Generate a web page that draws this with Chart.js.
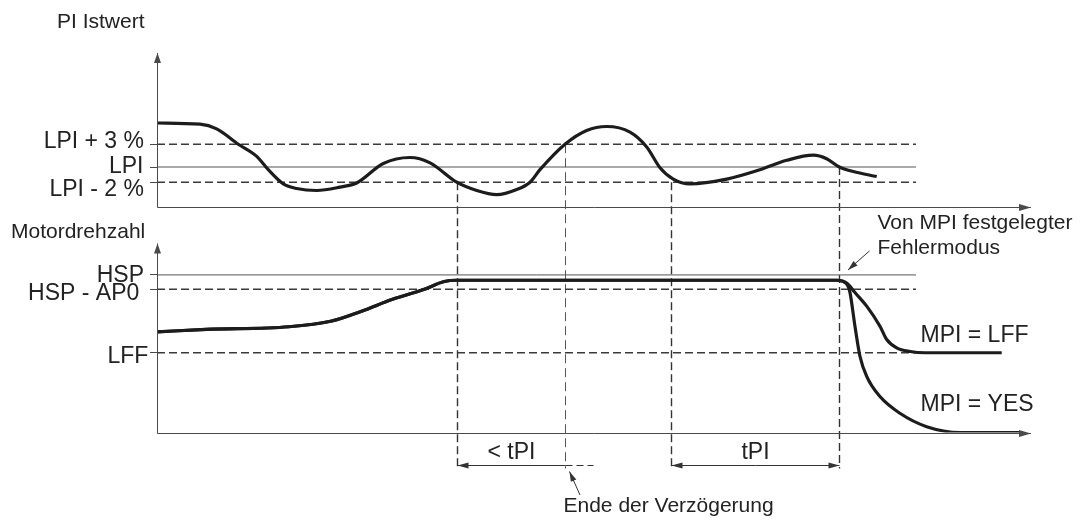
<!DOCTYPE html>
<html>
<head>
<meta charset="utf-8">
<script src="https://cdn.jsdelivr.net/npm/chart.js@4/dist/chart.umd.min.js"></script>
<style>
  html, body { margin: 0; padding: 0; background: #ffffff; }
  #wrap { width: 1080px; height: 525px; position: relative; }
</style>
</head>
<body>
<div id="wrap"><canvas id="timingChart"></canvas></div>
<script>
// --- Data (time in % of the shown span) ---

// PI feedback, deviation from LPI in %
const piTime  = [0, 4.92, 6.83, 9.3, 11.41, 12.73, 14.45, 15.98, 18.27, 20.94, 22.85, 25.89, 28.95, 31.24, 34.29, 36.58, 38.87, 41.16, 42.68, 43.82, 46.68, 49.16, 51.45, 54.12, 56.03, 57.55, 59.07, 60.98, 65.18, 68.99, 72.05, 75.09, 76.62, 78.07, 79.67, 82.35];
const piValue = [5.79, 5.64, 5.02, 3, 1.4, -0.35, -2.22, -2.83, -3.09, -2.65, -2.1, 0.46, 1.25, 0.55, -2, -3.09, -3.63, -2.96, -2, -0.35, 3, 4.81, 5.33, 4.58, 2.63, -0.09, -1.59, -2.22, -1.59, -0.35, 0.88, 1.55, 1.09, 0, -0.6, -1.25];

// Motor speed (Hz), common part until the fault
const speedTime  = [0, 5.65, 15.1, 19.86, 23.4, 26.95, 30.5, 32.87, 34.32, 77.8];
const speedValue = [31.95, 32.7, 33.55, 35.3, 38.5, 42.25, 45.35, 47.9, 48.3, 48.3];

// fault reaction MPI = LFF
const lffTime  = [78.95, 79.86, 81.2, 82.72, 83.49, 84.63, 86.16, 87.9, 96.65];
const lffValue = [47.35, 44.4, 40.1, 33.7, 29.5, 26.85, 25.7, 25.3, 25.3];

// fault reaction MPI = YES
const yesTime  = [78.95, 79.29, 79.86, 80.43, 81.2, 82.72, 85.0, 88.06, 91.88, 98.7];
const yesValue = [47.0, 44.4, 33.7, 24.2, 17.8, 11.4, 6.1, 1.85, 0, 0];

// reference levels and their labels
const piLevels    = [-2, 0, 3];
const piLabels    = ['LPI - 2 %', 'LPI', 'LPI + 3 %'];
const piDashed    = [true, false, true];
const speedLevels = [25.3, 45.45, 50];
const speedLabels = ['LFF', 'HSP - AP0', 'HSP'];
const speedDashed = [true, true, false];
const refEnd = 86.84;

// event markers (time) and the PI level each marker starts from
const markerTimes = [34.29, 46.68, 58.81, 78.07];
const markerStart = [-2, 3, -2, 0];

// where each level label sits (right edge x, baseline below the line)
const piLabelRight    = [144, 143.5, 144];
const piLabelDrop     = [14.1, 5.5, 3.3];
const speedLabelRight = [148.3, 139.3, 144];
const speedLabelDrop  = [10.5, 10.6, 7.3];

const ink = '#222222';
const axisGray = '#4a4a4a';
const smallFont = '21px "Liberation Sans", Arial, sans-serif';
const bigFont = '23px "Liberation Sans", Arial, sans-serif';

Chart.defaults.font.family = '"Liberation Sans", Arial, sans-serif';

function toPoints(times, values) {
    return times.map((t, i) => ({ x: t, y: values[i] }));
}

function refLine(level, dashed, axis) {
    return {
        data: [{ x: 0, y: level }, { x: refEnd, y: level }],
        yAxisID: axis,
        borderColor: dashed ? '#3a3a3a' : '#555555',
        borderWidth: dashed ? 1.4 : 1,
        borderDash: dashed ? [8, 4] : [],
        pointRadius: 0,
        tension: 0
    };
}

function curve(points, axis) {
    return {
        data: points,
        yAxisID: axis,
        borderColor: '#1c1c1c',
        borderWidth: 3.2,
        pointRadius: 0,
        cubicInterpolationMode: 'monotone'
    };
}

function arrowHead(ctx, tipX, tipY, fromX, fromY, len, half) {
    const a = Math.atan2(tipY - fromY, tipX - fromX);
    ctx.beginPath();
    ctx.moveTo(tipX, tipY);
    ctx.lineTo(tipX - len * Math.cos(a) + half * Math.sin(a), tipY - len * Math.sin(a) - half * Math.cos(a));
    ctx.lineTo(tipX - len * Math.cos(a) - half * Math.sin(a), tipY - len * Math.sin(a) + half * Math.cos(a));
    ctx.closePath();
    ctx.fill();
}

function arrowLine(ctx, x1, y1, x2, y2, len, half) {
    ctx.beginPath();
    ctx.moveTo(x1, y1);
    ctx.lineTo(x2, y2);
    ctx.stroke();
    arrowHead(ctx, x2, y2, x1, y1, len, half);
}

function text(ctx, str, x, y, font, align) {
    ctx.font = font;
    ctx.textAlign = align || 'left';
    ctx.textBaseline = 'alphabetic';
    ctx.fillText(str, x, y);
}

// markers, axes with arrows and all the annotation text
const diagramPlugin = {
    id: 'diagram',
    beforeDatasetsDraw(chart) {
        const { ctx, scales: { x, yTop, yBot } } = chart;
        ctx.save();
        markerTimes.forEach((t, i) => {
            const px = Math.round(x.getPixelForValue(t)) + 0.5;
            ctx.beginPath();
            ctx.setLineDash(i === 1 ? [9, 5] : [8, 4]);
            ctx.lineWidth = i === 1 ? 1 : 1.4;
            ctx.strokeStyle = i === 1 ? '#555555' : '#333333';
            ctx.moveTo(px, yTop.getPixelForValue(markerStart[i]));
            ctx.lineTo(px, yBot.bottom + 36);
            ctx.stroke();
        });
        ctx.restore();
    },
    afterDraw(chart) {
        const { ctx, scales: { x, yTop, yBot } } = chart;
        const left = Math.round(x.left) + 0.5;
        ctx.save();
        ctx.strokeStyle = axisGray;
        ctx.fillStyle = axisGray;
        ctx.lineWidth = 1;
        ctx.setLineDash([]);

        // axes
        const topBase = Math.round(yTop.bottom) + 0.5;
        const botBase = Math.round(yBot.bottom) + 0.5;
        arrowLine(ctx, left, topBase, left, yTop.top, 10, 3.5);
        arrowLine(ctx, left, topBase, x.right, topBase, 12, 3.5);
        arrowLine(ctx, left, botBase, left, yBot.getPixelForValue(60), 10, 3.5);
        arrowLine(ctx, left, botBase, x.right, botBase, 12, 3.5);

        // dimension lines
        const m = markerTimes.map(t => Math.round(x.getPixelForValue(t)) + 0.5);
        const dimY = Math.round(yBot.bottom + 32) + 0.5;
        ctx.strokeStyle = '#333333';
        ctx.fillStyle = '#333333';
        arrowLine(ctx, m[1], dimY, m[0], dimY, 11, 3);
        ctx.beginPath();
        ctx.setLineDash([7, 4]);
        ctx.moveTo(m[1], dimY);
        ctx.lineTo(m[1] + 28, dimY);
        ctx.stroke();
        ctx.setLineDash([]);
        arrowLine(ctx, (m[2] + m[3]) / 2, dimY, m[2], dimY, 11, 3);
        arrowLine(ctx, (m[2] + m[3]) / 2, dimY, m[3], dimY, 11, 3);

        // pointer arrows
        arrowLine(ctx, m[1] + 14.5, yBot.bottom + 62.5, m[1] + 4, yBot.bottom + 39, 10, 3);
        arrowLine(ctx, m[3] + 30, yBot.getPixelForValue(50) - 24, m[3] + 8.5, yBot.getPixelForValue(50) - 5, 10, 3);

        // level labels
        ctx.fillStyle = ink;
        piLevels.forEach((v, i) => {
            text(ctx, piLabels[i], piLabelRight[i], yTop.getPixelForValue(v) + piLabelDrop[i], bigFont, 'right');
        });
        speedLevels.forEach((v, i) => {
            text(ctx, speedLabels[i], speedLabelRight[i], yBot.getPixelForValue(v) + speedLabelDrop[i], bigFont, 'right');
        });

        // text
        text(ctx, 'PI Istwert', 57, 27.5, smallFont);
        text(ctx, 'Motordrehzahl', 11, 237.5, smallFont);
        text(ctx, 'Von MPI festgelegter', 877.5, 228.5, smallFont);
        text(ctx, 'Fehlermodus', 877.5, 254, smallFont);
        text(ctx, 'MPI = LFF', 920.5, yBot.getPixelForValue(speedLevels[0]) - 11, bigFont);
        text(ctx, 'MPI = YES', 920.5, yBot.bottom - 21.5, bigFont);
        text(ctx, '< tPI', (m[0] + m[1]) / 2, yBot.bottom + 26, bigFont, 'center');
        text(ctx, 'tPI', (m[2] + m[3]) / 2, yBot.bottom + 26, bigFont, 'center');
        text(ctx, 'Ende der Verzögerung', 563.5, 511.5, smallFont);
        ctx.restore();
    }
};

const levelAxis = (min, max, weight, levels) => ({
    type: 'linear',
    position: 'left',
    stack: 'panels',
    stackWeight: weight,
    min: min,
    max: max,
    border: { display: false },
    grid: { display: true, drawOnChartArea: false, drawTicks: true, tickLength: 7, color: axisGray, lineWidth: 1 },
    ticks: { display: false, autoSkip: false },
    afterBuildTicks: (scale) => { scale.ticks = levels.map(v => ({ value: v })); },
    afterFit: (scale) => { scale.width = 157; }
});

const datasets = [
    curve(toPoints(piTime, piValue), 'yTop'),
    curve(toPoints(speedTime.concat(lffTime), speedValue.concat(lffValue)), 'yBot'),
    curve(toPoints(speedTime.concat(yesTime), speedValue.concat(yesValue)), 'yBot')
];
piLevels.forEach((v, i) => datasets.push(refLine(v, piDashed[i], 'yTop')));
speedLevels.forEach((v, i) => datasets.push(refLine(v, speedDashed[i], 'yBot')));

new Chart(document.getElementById('timingChart'), {
    type: 'line',
    data: { datasets: datasets },
    options: {
        responsive: true,
        maintainAspectRatio: false,
        animation: false,
        layout: { padding: { top: 53, right: 49, bottom: 92.5, left: 0 } },
        scales: {
            x: { type: 'linear', min: 0, max: 100, display: false },
            // in a stack the scale listed last ends up on top
            yBot: levelAxis(0, 71.7, 225.8, speedLevels),
            yTop: levelAxis(-5.2, 15.0, 153.4, piLevels)
        },
        plugins: {
            legend: { display: false },
            tooltip: { enabled: false }
        }
    },
    plugins: [diagramPlugin]
});
</script>
</body>
</html>
